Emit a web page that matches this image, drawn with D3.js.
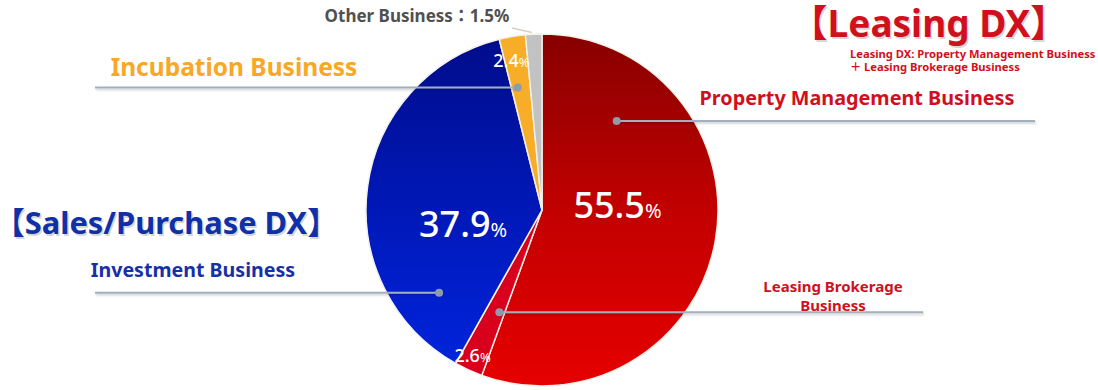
<!DOCTYPE html>
<html>
<head>
<meta charset="utf-8">
<script src="https://cdn.jsdelivr.net/npm/d3@7"></script>
<style>
  body { margin: 0; background: #fff; }
  svg text { font-family: "Noto Sans", "Noto Sans CJK JP", sans-serif; font-weight: bold; }
</style>
</head>
<body>
<svg id="chart" width="1098" height="390"></svg>
<script>
// segments, clockwise from 12 o'clock
const segments = ['Property Management Business', 'Leasing Brokerage Business', 'Investment Business', 'Incubation Business', 'Other Business'];
const shares = [55.5, 2.6, 37.9, 2.4, 1.5];
const shareLabels = ['55.5', '2.6', '37.9', '2.4', ''];

const width = 1098, height = 390;
const cx = 542, cy = 210, radius = 176;

const svg = d3.select('#chart');
const defs = svg.append('defs');

// gradients live in the pie group's coordinates (origin at pie centre)
function vGrad(id, stops) {
    const g = defs.append('linearGradient')
        .attr('id', id)
        .attr('gradientUnits', 'userSpaceOnUse')
        .attr('x1', 0).attr('x2', 0)
        .attr('y1', -radius).attr('y2', radius);
    stops.forEach(s => g.append('stop').attr('offset', s[0]).attr('stop-color', s[1]));
}
vGrad('redGrad', [[0, '#880000'], [0.5, '#c20000'], [1, '#e60000']]);
vGrad('blueGrad', [[0, '#000c8a'], [0.5, '#0018b8'], [1, '#0026e0']]);

const shadow = defs.append('filter').attr('id', 'shadow')
    .attr('filterUnits', 'userSpaceOnUse')
    .attr('x', 0).attr('y', 0).attr('width', width).attr('height', height);
shadow.append('feDropShadow').attr('dx', 1).attr('dy', 1.5).attr('stdDeviation', 1)
    .attr('flood-color', '#000').attr('flood-opacity', 0.22);

const fills = ['url(#redGrad)', '#d8001c', 'url(#blueGrad)', '#f8ad28', '#c2c2c2'];

const pie = d3.pie().sort(null).value(d => d)(shares);
const arc = d3.arc().innerRadius(0).outerRadius(radius);

const g = svg.append('g').attr('transform', `translate(${cx},${cy})`);
g.selectAll('path')
    .data(pie)
    .enter().append('path')
    .attr('d', arc)
    .attr('fill', (d, i) => fills[i])
    .attr('stroke', '#f4f0ea')
    .attr('stroke-width', 1.5);

// point inside slice i: t = fraction across the slice angle, r = fraction of radius
function inSlice(i, t, r) {
    const d = pie[i];
    const a = d.startAngle + (d.endAngle - d.startAngle) * t;
    return [cx + Math.sin(a) * radius * r, cy - Math.cos(a) * radius * r];
}

// leader lines: anchor dot inside slice, then horizontal line out to the label
const leaders = [
    { i: 0, t: 0.2, r: 0.66, x2: 1035 },
    { i: 1, t: 0.28, r: 0.63, x2: 923 },
    { i: 2, t: 0.16, r: 0.75, x2: 95 },
    { i: 3, t: 0.33, r: 0.71, x2: 95 }
];
leaders.forEach(l => {
    const [x, y] = inSlice(l.i, l.t, l.r);
    svg.append('line')
        .attr('x1', x).attr('y1', y).attr('x2', l.x2).attr('y2', y)
        .attr('stroke', '#a3afbd').attr('stroke-width', 2)
        .attr('filter', 'url(#shadow)');
    svg.append('circle').attr('cx', x).attr('cy', y).attr('r', 4)
        .attr('fill', '#8d9bab');
});

// percentage labels inside slices
const pctLabels = [
    { i: 0, t: 0.43, r: 0.43, size: 36, pct: 20 },
    { i: 1, t: 0.3, r: 0.9, size: 18, pct: 13, dx: -8 },
    { i: 2, t: 0.35, r: 0.46, size: 36, pct: 20, dy: -4 },
    { i: 3, t: 0.5, r: 0.86, size: 18, pct: 13, dx: -5 }
];
pctLabels.forEach(p => {
    const [x, y] = inSlice(p.i, p.t, p.r);
    const t = svg.append('text')
        .attr('x', x + (p.dx || 0)).attr('y', y + (p.dy || 0) + p.size * 0.36)
        .attr('text-anchor', 'middle')
        .attr('fill', '#fff')
        .style('font-weight', 500)
        .attr('font-size', p.size);
    t.append('tspan').text(shareLabels[p.i]);
    t.append('tspan').attr('font-size', p.pct).style('font-weight', 'normal').text('%');
});

// small leader for Other Business
{
    const [x, y] = inSlice(4, 0.4, 1.01);
    svg.append('line')
        .attr('x1', 512).attr('y1', 28).attr('x2', x).attr('y2', y)
        .attr('stroke', '#d9cfc4').attr('stroke-width', 1.5);
}

// category labels; headings get a soft offset copy underneath as shadow
function label(x, y, txt, size, color, anchor, shadowed) {
    if (shadowed) {
        svg.append('text')
            .attr('x', x + 1.5).attr('y', y + 1.5)
            .attr('text-anchor', anchor || 'start')
            .attr('font-size', size)
            .attr('fill', '#000').attr('fill-opacity', 0.18)
            .text(txt);
    }
    return svg.append('text')
        .attr('x', x).attr('y', y)
        .attr('text-anchor', anchor || 'start')
        .attr('font-size', size)
        .attr('fill', color)
        .text(txt);
}

label(417, 22, segments[4] + '：' + shares[4] + '%', 17, '#505050', 'middle');
label(234, 76, segments[3], 24.5, '#f9a825', 'middle');
label(193, 277, segments[2], 19.6, '#1630a8', 'middle');
label(857, 105, segments[0], 19.8, '#d0101c', 'middle');
label(833, 292, 'Leasing Brokerage', 15, '#d0101c', 'middle');
label(833, 311, 'Business', 15, '#d0101c', 'middle');

// group headings
label(166, 234, '【Sales/Purchase DX】', 30.8, '#1030a8', 'middle', true);
label(929, 37, '【Leasing DX】', 37, '#d0101c', 'middle', true);
label(850, 58, 'Leasing DX: Property Management Business', 11.2, '#d0101c');
label(850, 71, '＋ Leasing Brokerage Business', 11.2, '#d0101c');
</script>
</body>
</html>
